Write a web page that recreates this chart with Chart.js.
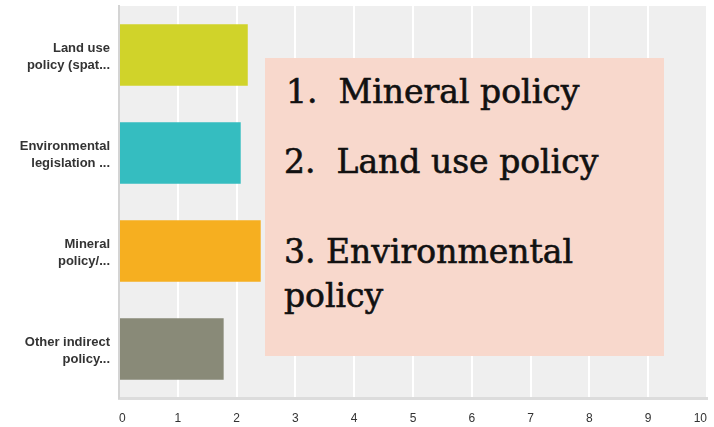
<!DOCTYPE html>
<html>
<head>
<meta charset="utf-8">
<script src="https://cdn.jsdelivr.net/npm/chart.js@4"></script>
<style>
  html, body { margin: 0; padding: 0; background: #fff; }
  #wrap { position: relative; width: 714px; height: 427px; }
  #policyBox {
    position: absolute; left: 265px; top: 58px; width: 399px; height: 298px;
    background: #f8d8cc; font-family: "DejaVu Serif", "Liberation Serif", serif;
    font-size: 33px; color: #111; -webkit-text-stroke: 0.6px #111;
  }
  #policyBox div { position: absolute; white-space: pre; line-height: 1; }
</style>
</head>
<body>
<div id="wrap">
  <canvas id="policyChart" width="714" height="427"></canvas>
  <div id="policyBox">
    <div style="left:21px; top:17px;">1.  Mineral policy</div>
    <div style="left:19px; top:87px;">2.  Land use policy</div>
    <div style="left:19px; top:177px;">3. Environmental</div>
    <div style="left:19px; top:221px;">policy</div>
  </div>
</div>
<script>
const categories = [
    ['Land use', 'policy (spat...'],
    ['Environmental', 'legislation ...'],
    ['Mineral', 'policy/...'],
    ['Other indirect', 'policy...'],
];
const averages = [2.19, 2.07, 2.41, 1.78];
const barColors = ['#d0d32a', '#35bdc0', '#f6af20', '#898a78'];
const xTicks = [0, 1, 2, 3, 4, 5, 6, 7, 8, 9, 10];

const plotBackground = {
    id: 'plotBackground',
    beforeDraw(chart) {
        const { ctx, chartArea: a } = chart;
        ctx.save();
        ctx.fillStyle = '#efefef';
        ctx.fillRect(a.left, a.top, a.right - a.left, a.bottom - a.top);
        ctx.restore();
    }
};

new Chart(document.getElementById('policyChart').getContext('2d'), {
    type: 'bar',
    data: {
        labels: categories,
        datasets: [{
            data: averages,
            backgroundColor: barColors,
            barPercentage: 0.63,
            categoryPercentage: 1,
        }],
    },
    options: {
        indexAxis: 'y',
        responsive: false,
        animation: false,
        layout: { padding: { top: 6, right: 7, left: 0, bottom: 0 } },
        scales: {
            x: {
                min: 0,
                max: 10,
                afterBuildTicks: (scale) => { scale.ticks = xTicks.map(v => ({ value: v })); },
                afterFit: (scale) => {
                    scale.height = 29;
                    scale.paddingLeft = 0;
                    scale.paddingRight = 0;
                },
                grid: { color: '#ffffff', lineWidth: 2, drawTicks: false },
                border: { color: '#dcdcdc', width: 3 },
                ticks: {
                    padding: 13,
                    align: 'inner',
                    color: '#333',
                    font: { family: 'Liberation Sans, Arial, sans-serif', size: 12 },
                },
            },
            y: {
                afterFit: (scale) => {
                    scale.width = 119;
                    scale.paddingTop = 0;
                    scale.paddingBottom = 0;
                },
                grid: { display: false, drawTicks: false },
                border: { color: '#d4d4d4', width: 2 },
                ticks: {
                    padding: 9,
                    labelOffset: 2,
                    color: '#333',
                    font: { family: 'Liberation Sans, Arial, sans-serif', size: 13, weight: 'bold', lineHeight: 1.3 },
                },
            },
        },
        plugins: {
            legend: { display: false },
            tooltip: { enabled: false },
        },
    },
    plugins: [plotBackground],
});
</script>
</body>
</html>
